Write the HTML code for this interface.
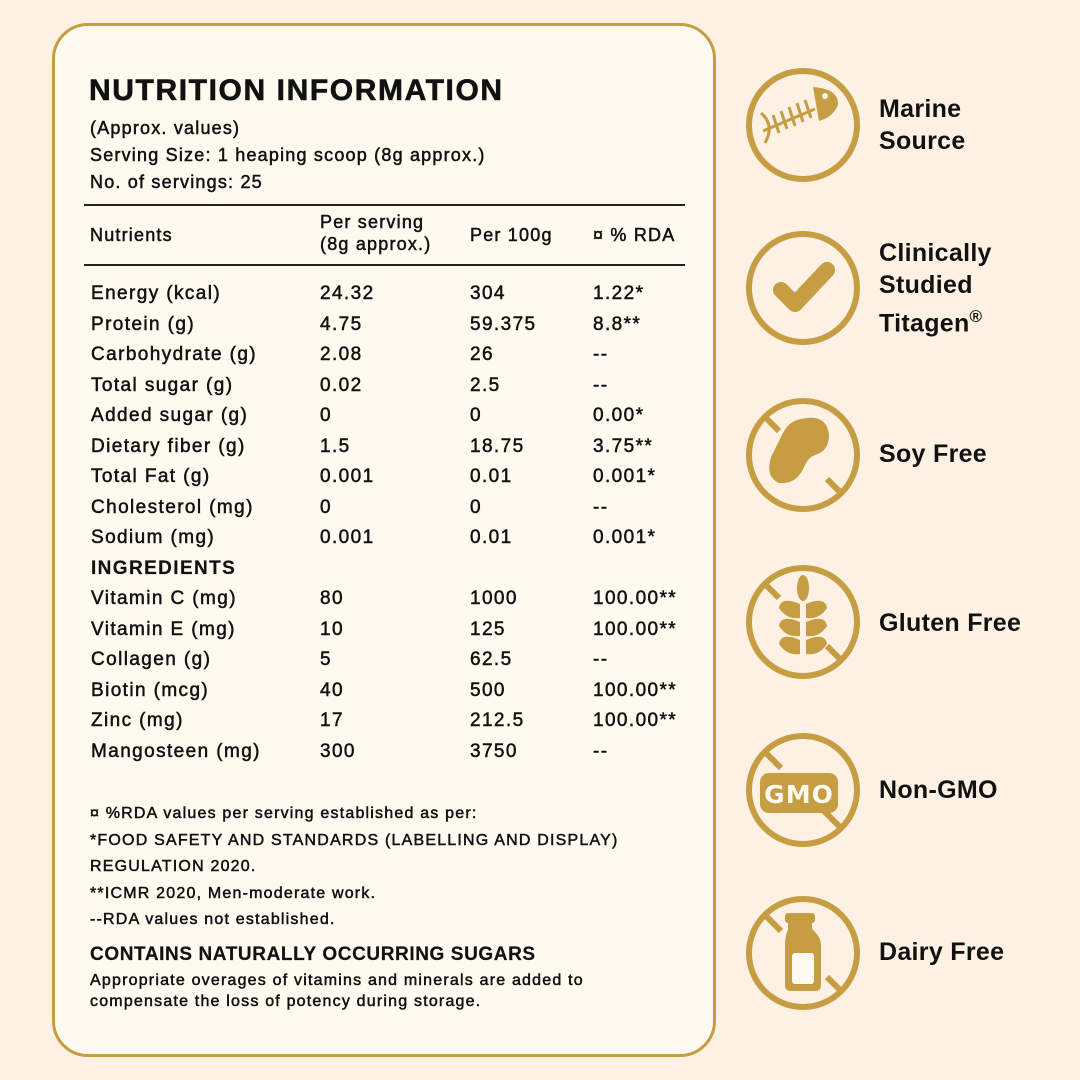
<!DOCTYPE html>
<html><head><style>
*{margin:0;padding:0;box-sizing:border-box}
body{width:1080px;height:1080px;background:#fdf1e4;position:relative;font-family:"Liberation Sans",sans-serif;color:#111;overflow:hidden}
.card{position:absolute;left:52px;top:23px;width:664px;height:1034px;border:3px solid #c69d42;border-radius:36px;background:#fefaef}
.t{position:absolute;white-space:nowrap;font-size:19px;line-height:22px;letter-spacing:1.4px;-webkit-text-stroke:0.5px #111}
.s{letter-spacing:1.2px}
.b{font-weight:bold;-webkit-text-stroke:0.2px #111}
.hl{position:absolute;left:84px;width:601px;height:2px;background:#222}
.lab{position:absolute;left:879px;font-size:25px;font-weight:bold;line-height:32px;letter-spacing:0.3px}
svg.ic{position:absolute;left:743px;width:120px;height:120px}
</style></head><body>
<div class="card"></div>
<div class="t b" style="left:89px;top:74px;font-size:30px;line-height:34px;letter-spacing:1.6px;-webkit-text-stroke:0.6px #111">NUTRITION INFORMATION</div>
<div class="t s" style="left:90px;top:117px;font-size:18px">(Approx. values)</div>
<div class="t s" style="left:90px;top:144px;font-size:18px">Serving Size: 1 heaping scoop (8g approx.)</div>
<div class="t s" style="left:90px;top:171px;font-size:18px">No. of servings: 25</div>
<div class="hl" style="top:204px"></div>
<div class="t s" style="left:90px;top:224px;font-size:18px">Nutrients</div>
<div class="t s" style="left:320px;top:211px;font-size:18px">Per serving<br>(8g approx.)</div>
<div class="t s" style="left:470px;top:224px;font-size:18px">Per 100g</div>
<div class="t s" style="left:593px;top:224px;font-size:18px">¤ % RDA</div>
<div class="hl" style="top:264px"></div>
<div id="rows"></div>
<div class="t s" style="left:90px;top:803px;font-size:16px">¤ %RDA values per serving established as per:</div>
<div class="t s" style="left:90px;top:830px;font-size:16px">*FOOD SAFETY AND STANDARDS (LABELLING AND DISPLAY)</div>
<div class="t s" style="left:90px;top:856px;font-size:16px">REGULATION 2020.</div>
<div class="t s" style="left:90px;top:883px;font-size:16px">**ICMR 2020, Men-moderate work.</div>
<div class="t s" style="left:90px;top:909px;font-size:16px">--RDA values not established.</div>
<div class="t b" style="left:90px;top:944px;font-size:19px;letter-spacing:0.6px">CONTAINS NATURALLY OCCURRING SUGARS</div>
<div class="t s" style="left:90px;top:970px;font-size:16px;line-height:21px">Appropriate overages of vitamins and minerals are added to<br>compensate the loss of potency during storage.</div>

<svg class="ic" style="top:65px" viewBox="0 0 120 120"><circle cx="60" cy="60" r="54" fill="none" stroke="#c69d42" stroke-width="6"/>
<path d="M70 22 Q96 24 95 40 Q90 52 76 56 Z" fill="#c69d42"/><circle cx="82" cy="31" r="3" fill="#fefaef"/>
<path d="M20 66 L72 44 M18 48 Q32 60 22 78" stroke="#c69d42" stroke-width="3" fill="none"/>
<path d="M30 50 L36 68 M38 46 L44 64 M46 42 L52 61 M54 38 L60 57 M62 35 L68 53" stroke="#c69d42" stroke-width="3"/></svg>
<div class="lab" style="top:93px">Marine<br>Source</div>

<svg class="ic" style="top:228px" viewBox="0 0 120 120"><circle cx="60" cy="60" r="54" fill="none" stroke="#c69d42" stroke-width="6"/>
<path d="M38 62 L52 76 L84 42" stroke="#c69d42" stroke-width="16" stroke-linecap="round" stroke-linejoin="round" fill="none"/></svg>
<div class="lab" style="top:237px">Clinically<br>Studied<br>Titagen<sup style="font-size:17px">®</sup></div>

<svg class="ic" style="top:395px" viewBox="0 0 120 120"><circle cx="60" cy="60" r="54" fill="none" stroke="#c69d42" stroke-width="6"/>
<path d="M22 22 L36 36 M84 84 L98 98" stroke="#c69d42" stroke-width="6"/>
<path d="M58 24 Q84 18 86 40 Q86 56 72 60 Q66 62 62 70 Q54 90 36 88 Q22 82 28 62 Q34 50 40 38 Q46 26 58 24 Z" fill="#c69d42"/></svg>
<div class="lab" style="top:438px">Soy Free</div>

<svg class="ic" style="top:562px" viewBox="0 0 120 120"><circle cx="60" cy="60" r="54" fill="none" stroke="#c69d42" stroke-width="6"/>
<path d="M22 22 L36 36 M84 84 L98 98" stroke="#c69d42" stroke-width="6"/>
<g fill="#c69d42"><ellipse cx="60" cy="26" rx="6" ry="13"/><path d="M57 42 Q38 34 36 46 Q44 58 57 56Z M63 42 Q82 34 84 46 Q76 58 63 56Z M57 60 Q38 52 36 64 Q44 76 57 74Z M63 60 Q82 52 84 64 Q76 76 63 74Z M57 78 Q38 70 36 82 Q44 94 57 92Z M63 78 Q82 70 84 82 Q76 94 63 92Z"/></g></svg>
<div class="lab" style="top:607px">Gluten Free</div>

<svg class="ic" style="top:730px" viewBox="0 0 120 120"><circle cx="60" cy="60" r="54" fill="none" stroke="#c69d42" stroke-width="6"/>
<path d="M22 22 L38 38 M80 80 L98 98" stroke="#c69d42" stroke-width="6"/>
<rect x="17" y="43" width="78" height="40" rx="9" fill="#c69d42"/>
<text x="56" y="73" text-anchor="middle" font-family="DejaVu Sans,sans-serif" font-weight="bold" font-size="25" fill="#fefaef" letter-spacing="1">GMO</text></svg>
<div class="lab" style="top:774px">Non-GMO</div>

<svg class="ic" style="top:893px" viewBox="0 0 120 120"><circle cx="60" cy="60" r="54" fill="none" stroke="#c69d42" stroke-width="6"/>
<path d="M22 22 L38 38 M84 84 L98 98" stroke="#c69d42" stroke-width="6"/>
<rect x="42" y="20" width="30" height="10" rx="3" fill="#c69d42"/>
<path d="M45 30 H69 V36 Q78 44 78 52 V92 Q78 98 72 98 H48 Q42 98 42 92 V52 Q42 44 45 36 Z" fill="#c69d42"/>
<rect x="49" y="60" width="22" height="31" rx="3" fill="#fefaef"/></svg>
<div class="lab" style="top:936px">Dairy Free</div>

<script>
const r=[["Energy (kcal)","24.32","304","1.22*"],["Protein (g)","4.75","59.375","8.8**"],["Carbohydrate (g)","2.08","26","--"],["Total sugar (g)","0.02","2.5","--"],["Added sugar (g)","0","0","0.00*"],["Dietary fiber (g)","1.5","18.75","3.75**"],["Total Fat (g)","0.001","0.01","0.001*"],["Cholesterol (mg)","0","0","--"],["Sodium (mg)","0.001","0.01","0.001*"],["INGREDIENTS","","",""],["Vitamin C (mg)","80","1000","100.00**"],["Vitamin E (mg)","10","125","100.00**"],["Collagen (g)","5","62.5","--"],["Biotin (mcg)","40","500","100.00**"],["Zinc (mg)","17","212.5","100.00**"],["Mangosteen (mg)","300","3750","--"]];
const xs=[91,320,470,593];let h="";
r.forEach((row,i)=>{const y=283+i*30.5;row.forEach((c,j)=>{if(c)h+=`<div class="t${i==9?' b':''}" style="left:${xs[j]}px;top:${y}px">${c}</div>`})});
document.getElementById("rows").innerHTML=h;
</script>
</body></html>
